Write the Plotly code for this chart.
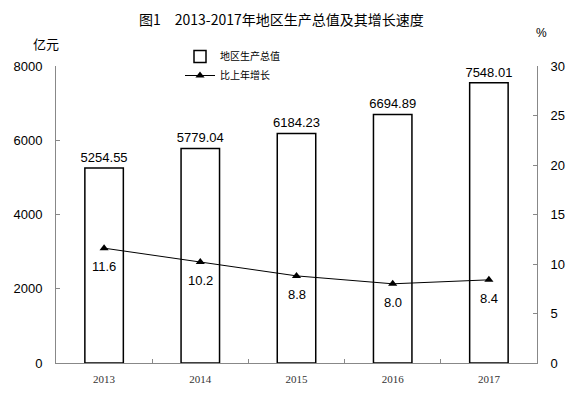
import plotly.graph_objects as go

years = ["2013", "2014", "2015", "2016", "2017"]
gdp = [5254.55, 5779.04, 6184.23, 6694.89, 7548.01]
growth = [11.6, 10.2, 8.8, 8.0, 8.4]
gdp_labels = ["5254.55", "5779.04", "6184.23", "6694.89", "7548.01"]
growth_labels = ["11.6", "10.2", "8.8", "8.0", "8.4"]

num_font = "Liberation Sans, Arial, sans-serif"
cjk_font = "Noto Sans CJK SC, sans-serif"

fig = go.Figure()
fig.add_trace(go.Bar(
    x=years, y=gdp, name="地区生产总值", width=0.4,
    marker=dict(color="white", line=dict(color="black", width=1.5)),
    text=gdp_labels, textposition="outside", cliponaxis=False, constraintext="none",
    textfont=dict(family=num_font, size=13, color="black"),
))
fig.add_trace(go.Scatter(
    x=years, y=growth, name="比上年增长", yaxis="y2", mode="lines+markers",
    line=dict(color="black", width=1),
    marker=dict(symbol="triangle-up", size=8, color="black"),
))
for i, (g, lab) in enumerate(zip(growth, growth_labels)):
    fig.add_annotation(x=i, y=g, xref="x", yref="y2", text=lab, showarrow=False,
                       yanchor="top", yshift=-9,
                       font=dict(family=num_font, size=13, color="black"))

fig.add_annotation(text="图1　2013-2017年地区生产总值及其增长速度", xref="paper", yref="paper",
                   x=(281 - 56) / 481, y=1 + (66 - 19) / 297, xanchor="center", yanchor="middle",
                   showarrow=False, font=dict(family=cjk_font, size=14, color="black"))
fig.add_annotation(text="亿元", xref="paper", yref="paper",
                   x=(46 - 56) / 481, y=1 + (66 - 43) / 297, xanchor="center", yanchor="middle",
                   showarrow=False, font=dict(family=cjk_font, size=13, color="black"))
fig.add_annotation(text="%", xref="paper", yref="paper",
                   x=(541 - 56) / 481, y=1 + (66 - 33) / 297, xanchor="center", yanchor="middle",
                   showarrow=False, font=dict(family=num_font, size=12, color="black"))

fig.update_layout(
    width=576, height=403,
    margin=dict(l=56, r=39, t=66, b=40, autoexpand=False),
    paper_bgcolor="white", plot_bgcolor="white",
    showlegend=True,
    legend=dict(x=(180 - 56) / 481, y=1 + (66 - 42) / 297, xanchor="left", yanchor="top",
                font=dict(family=cjk_font, size=10, color="black"),
                bgcolor="rgba(0,0,0,0)", tracegroupgap=0),
    bargap=0.6,
    xaxis=dict(type="category", categoryorder="array", categoryarray=years, range=[-0.5, 4.5],
               showline=True, linecolor="#888", linewidth=1,
               ticks="inside", tickson="boundaries", ticklen=4, tickcolor="#888",
               tickfont=dict(family="Liberation Serif, serif", size=11, color="#333"),
               ticklabelstandoff=6, showgrid=False, mirror=False),
    yaxis=dict(range=[0, 8000], tickvals=[0, 2000, 4000, 6000, 8000], showline=True,
               linecolor="#888", linewidth=1, ticks="inside", ticklen=4, tickcolor="#888",
               tickfont=dict(family=num_font, size=13, color="black"),
               ticklabelstandoff=10, showgrid=False, zeroline=False),
    yaxis2=dict(range=[0, 30], tickvals=[0, 5, 10, 15, 20, 25, 30], overlaying="y", side="right",
                showline=True, linecolor="#888", linewidth=1, ticks="inside", ticklen=4,
                tickcolor="#888", tickfont=dict(family=num_font, size=13, color="black"),
                ticklabelstandoff=10, showgrid=False, zeroline=False),
)

fig.write_html("out.html", config={"displayModeBar": False},
               post_script="document.body.style.margin='0';")
